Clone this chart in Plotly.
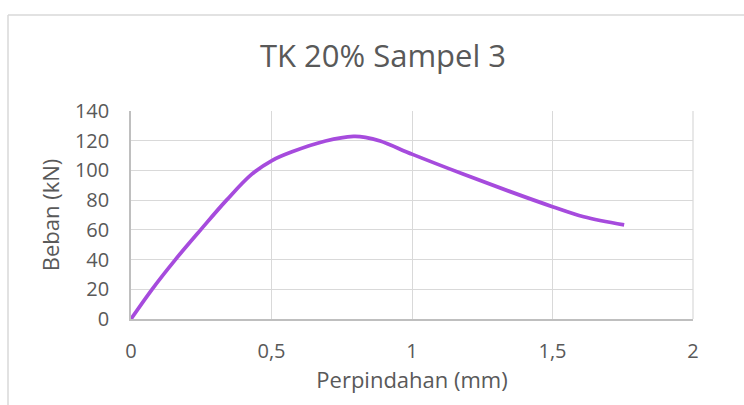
import plotly.graph_objects as go

# Data
displacement_mm = [0, 0.075, 0.158, 0.25, 0.34, 0.43, 0.5, 0.573, 0.692, 0.792, 0.834,
                   0.887, 1.002, 1.184, 1.347, 1.5, 1.611, 1.755]
load_kN = [0, 20, 40, 60.5, 80, 97.5, 106.5, 112.5, 119.8, 122.9, 122.3,
           119.8, 110.8, 97.4, 85.9, 75.6, 68.8, 63.3]
x_ticks = [0, 0.5, 1, 1.5, 2]
y_ticks = [0, 20, 40, 60, 80, 100, 120, 140]

W, H = 744, 405
L, R, T, B = 131, 51, 111, 86
pw, ph = W - L - R, H - T - B

def px(xp):
    return (xp - L) / pw

def py(yp):
    return (H - B - yp) / ph

fig = go.Figure()
fig.add_trace(go.Scatter(
    x=displacement_mm, y=load_kN, mode="lines",
    line=dict(color="#A64BDD", width=3.75, shape="spline", smoothing=1),
    hoverinfo="skip", showlegend=False,
))

font_family = "Open Sans, Liberation Sans, sans-serif"
grey = "#595959"

fig.update_layout(
    width=W, height=H,
    margin=dict(l=L, r=R, t=T, b=B),
    paper_bgcolor="white", plot_bgcolor="white",
    separators=",.",
    font=dict(family=font_family, color=grey),
    title=dict(text="TK 20% Sampel 3", x=383 / W, xanchor="center",
               y=1 - 56 / H, yanchor="middle",
               font=dict(size=31, color=grey, family=font_family)),
    xaxis=dict(range=[0, 2], tickvals=x_ticks, showgrid=True, gridcolor="#D9D9D9",
               gridwidth=1.2, zeroline=False, showline=True, linecolor="#BFBFBF",
               linewidth=1.6, ticks="", tickfont=dict(size=20, color=grey),
               ticklabelstandoff=13,
               title=dict(text="Perpindahan (mm)", font=dict(size=22, color=grey), standoff=8)),
    yaxis=dict(range=[0, 140], tickvals=y_ticks, showgrid=True, gridcolor="#D9D9D9",
               gridwidth=1.2, zeroline=False, showline=True, linecolor="#BFBFBF",
               linewidth=1.6, ticks="", tickfont=dict(size=20, color=grey),
               ticklabelstandoff=16,
               title=dict(text="Beban (kN)", font=dict(size=22, color=grey), standoff=9)),
)

# right edge gridline at x=2 and outer chart border
fig.add_shape(type="line", xref="paper", yref="paper", x0=1, x1=1, y0=0, y1=1,
              line=dict(color="#D9D9D9", width=1.2))
fig.add_shape(type="line", xref="paper", yref="paper", x0=px(8), x1=px(760),
              y0=py(15), y1=py(15), line=dict(color="#D9D9D9", width=1.5))
fig.add_shape(type="line", xref="paper", yref="paper", x0=px(8), x1=px(8),
              y0=py(15), y1=py(420), line=dict(color="#D9D9D9", width=1.5))

fig.write_html("out.html")
